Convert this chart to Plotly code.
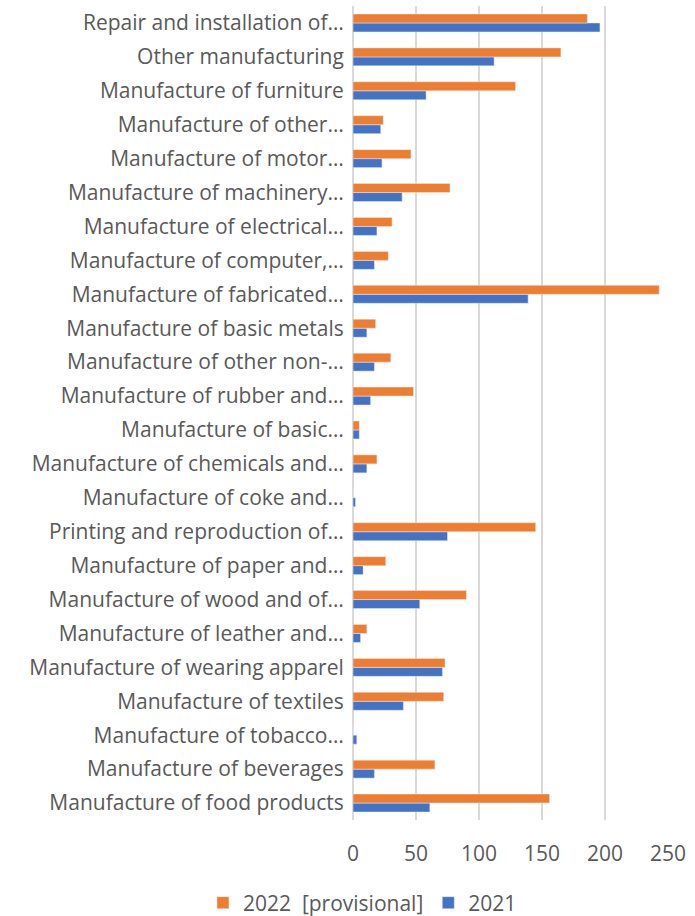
import plotly.graph_objects as go

categories = [
    "Manufacture of food products",
    "Manufacture of beverages",
    "Manufacture of tobacco…",
    "Manufacture of textiles",
    "Manufacture of wearing apparel",
    "Manufacture of leather and…",
    "Manufacture of wood and of…",
    "Manufacture of paper and…",
    "Printing and reproduction of…",
    "Manufacture of coke and…",
    "Manufacture of chemicals and…",
    "Manufacture of basic…",
    "Manufacture of rubber and…",
    "Manufacture of other non-…",
    "Manufacture of basic metals",
    "Manufacture of fabricated…",
    "Manufacture of computer,…",
    "Manufacture of electrical…",
    "Manufacture of machinery…",
    "Manufacture of motor…",
    "Manufacture of other…",
    "Manufacture of furniture",
    "Other manufacturing",
    "Repair and installation of…",
]

values_2021 = [61, 17, 3, 40, 71, 6, 53, 8, 75, 2, 11, 5, 14, 17, 11, 139, 17, 19, 39, 23, 22, 58, 112, 196]
values_2022 = [156, 65, 0, 72, 73, 11, 90, 26, 145, 0, 19, 5, 48, 30, 18, 243, 28, 31, 77, 46, 24, 129, 165, 186]

x_ticks = [0, 50, 100, 150, 200, 250]

FONT = "Open Sans"
GRAY = "#595959"

fig = go.Figure()
fig.add_trace(go.Bar(
    y=categories, x=values_2021, orientation="h", name="2021",
    marker=dict(color="#4472C4"),
))
fig.add_trace(go.Bar(
    y=categories, x=values_2022, orientation="h", name="2022  [provisional]",
    marker=dict(color="#ED7D31"),
))

fig.update_layout(
    width=695, height=916,
    margin=dict(l=353, r=27, t=6, b=96, autoexpand=False),
    paper_bgcolor="white", plot_bgcolor="white",
    barmode="group", bargap=0.47, bargroupgap=0,
    font=dict(family=FONT, size=21, color=GRAY),
    legend=dict(
        orientation="h", traceorder="reversed",
        x=0.03, xanchor="center", y=-0.102, yanchor="middle",
        font=dict(family=FONT, size=21, color=GRAY),
        itemwidth=30,
    ),
    showlegend=True,
)
fig.update_xaxes(
    range=[0, 250], tickvals=x_ticks, showgrid=True,
    gridcolor="#d9d9d9", gridwidth=1.5, zeroline=True,
    zerolinecolor="#d9d9d9", zerolinewidth=1.5,
    showline=False, ticks="outside", ticklen=15, tickcolor="rgba(0,0,0,0)",
    tickfont=dict(size=21, color=GRAY),
)
fig.update_yaxes(
    type="category", showgrid=False, showline=False, ticks="outside",
    ticklen=4, tickcolor="rgba(0,0,0,0)", tickfont=dict(size=21, color=GRAY),
)

fig.write_html("out.html")
